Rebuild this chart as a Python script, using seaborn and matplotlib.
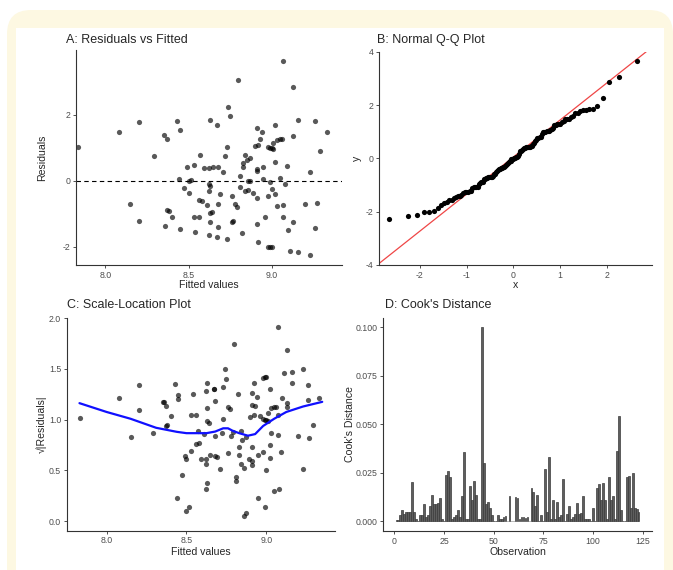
import numpy as np
import matplotlib
matplotlib.use("Agg")
import matplotlib.pyplot as plt
import seaborn as sns
from matplotlib.patches import FancyBboxPatch, Rectangle
from statistics import NormalDist

# fitted values / residuals, one pair per observation
fitted = [7.836, 8.08, 8.20, 8.29, 8.15, 8.20, 8.35, 8.37, 8.43, 8.45,
          8.44, 8.37, 8.38, 8.40, 8.36, 8.45, 8.47, 8.49, 8.50, 8.50,
          8.515, 8.53, 8.57, 8.53, 8.56, 8.54, 8.56, 8.58, 8.59, 8.62,
          8.63, 8.62, 8.62, 8.63, 8.61, 8.63, 8.64, 8.63, 8.62, 8.65,
          8.68, 8.67, 8.68, 8.69, 8.68, 8.67, 8.71, 8.72, 8.73, 8.74,
          8.73, 8.75, 8.76, 8.76, 8.77, 8.78, 8.79, 8.80, 8.81, 8.81,
          8.82, 8.83, 8.84, 8.83, 8.84, 8.86, 8.85, 8.87, 8.86, 8.87,
          8.89, 8.91, 8.91, 8.91, 8.90, 8.92, 8.93, 8.94, 8.91, 8.91,
          8.92, 8.95, 8.95, 8.96, 8.98, 8.98, 8.99, 9.00, 9.01, 8.98,
          8.99, 9.00, 8.99, 9.00, 9.02, 9.02, 9.01, 9.03, 9.05, 9.06,
          9.02, 9.03, 9.05, 9.07, 9.07, 9.08, 9.07, 9.09, 9.10, 9.11,
          9.13, 9.13, 9.13, 9.16, 9.16, 9.20, 9.23, 9.23, 9.26, 9.27,
          9.26, 9.29, 9.33]
residuals = [1.03, 1.47, 1.79, 0.75, -0.69, -1.21, 1.39, 1.28, 1.82, 1.55,
             0.05, -0.88, -0.90, -1.08, -1.38, -1.46, -0.21, 0.41, -0.37, -0.01,
             0.02, 0.48, 0.79, -1.09, -1.10, -1.56, -0.58, -0.60, 0.38, 0.38,
             1.85, -0.32, -0.10, -0.14, -0.73, -0.98, -0.94, -1.25, -1.64, 0.43,
             0.41, 1.70, -0.70, -0.40, -1.41, -1.69, 0.26, 0.76, 1.02, 2.25,
             -1.76, 1.97, -0.45, -1.26, -1.22, -0.70, -0.78, 3.05, 0.16, -0.19,
             -1.57, 0.54, 0.79, 0.43, -0.32, -0.27, 0.64, 0.69, 0.003, -0.007,
             -0.37, 1.60, 0.35, 0.31, 1.06, 1.09, 1.28, 1.49, -0.53, -1.31,
             -1.86, 0.05, 0.43, -1.08, -0.47, 1.02, 0.99, 0.99, 0.97, -1.99,
             -2.01, -2.01, -0.02, -0.25, -0.39, 1.69, 1.14, 1.24, 1.27, 1.26,
             0.56, -0.76, 0.09, -0.72, -1.09, -0.10, 3.65, 0.46, -1.48, -2.12,
             1.36, -1.26, 2.85, 1.86, -2.17, -0.71, 0.26, -2.26, 1.81, -0.67,
             -1.42, 0.90, 1.47]

# Cook's distance for observations 1..123 (panel D)
cooks_d = [0.0005, 0.0005, 0.003, 0.006, 0.004, 0.005, 0.005, 0.005, 0.0205, 0.005,
           0.001, 0.0, 0.003, 0.003, 0.009, 0.002, 0.003, 0.008, 0.0135, 0.009,
           0.009, 0.0095, 0.012, 0.001, 0.0, 0.024, 0.026, 0.023, 0.001, 0.002,
           0.003, 0.006, 0.002, 0.013, 0.0355, 0.001, 0.001, 0.018, 0.011, 0.021,
           0.0135, 0.001, 0.001, 0.100, 0.030, 0.009, 0.010, 0.007, 0.003, 0.0,
           0.0, 0.0035, 0.001, 0.001, 0.002, 0.0025, 0.0, 0.013, 0.0, 0.0,
           0.0125, 0.012, 0.001, 0.002, 0.002, 0.0015, 0.002, 0.0, 0.017, 0.015,
           0.008, 0.0135, 0.0, 0.003, 0.0, 0.027, 0.005, 0.033, 0.001, 0.011,
           0.001, 0.010, 0.002, 0.003, 0.022, 0.0, 0.004, 0.008, 0.001, 0.002,
           0.004, 0.0095, 0.004, 0.0045, 0.013, 0.001, 0.001, 0.001, 0.0, 0.007,
           0.0, 0.017, 0.019, 0.011, 0.0195, 0.011, 0.001, 0.023, 0.011, 0.013,
           0.001, 0.036, 0.0545, 0.006, 0.0, 0.0, 0.023, 0.0235, 0.007, 0.025,
           0.007, 0.0065, 0.005]
observation = list(range(1, len(cooks_d) + 1))

# smoothed trend in panel C
smooth_x = [7.83, 8.00, 8.15, 8.31, 8.44, 8.50, 8.625, 8.68, 8.73, 8.76,
            8.79, 8.83, 8.885, 8.93, 8.98, 9.05, 9.125, 9.23, 9.35]
smooth_y = [1.163, 1.076, 1.009, 0.92, 0.88, 0.867, 0.867, 0.883, 0.915, 0.915,
            0.89, 0.867, 0.842, 0.858, 0.938, 1.01, 1.076, 1.13, 1.176]

sns.set_theme(style="ticks")
plt.rcParams["font.family"] = ["Liberation Sans", "DejaVu Sans"]
plt.rcParams["axes.unicode_minus"] = False
plt.rcParams["axes.edgecolor"] = "#333333"
plt.rcParams["axes.linewidth"] = 0.8
for k in ("xtick", "ytick"):
    plt.rcParams[k + ".color"] = "#333333"
    plt.rcParams[k + ".labelcolor"] = "#4d4d4d"
    plt.rcParams[k + ".labelsize"] = 6.3
    plt.rcParams[k + ".major.size"] = 2.5
    plt.rcParams[k + ".major.width"] = 0.6
    plt.rcParams[k + ".major.pad"] = 1.5

W, H = 673, 570
fig = plt.figure(figsize=(W / 100, H / 100), dpi=100)
fig.patch.set_facecolor("white")

# pale frame behind the panels (pixel coords)
fig.patches.append(FancyBboxPatch((7, -40), 666, H - 10 + 40,
                                  boxstyle="round,pad=0,rounding_size=24",
                                  transform=None, facecolor="#fdf8e2",
                                  edgecolor="none", zorder=-10))
fig.patches.append(Rectangle((16, -5), 648, H - 28 + 5, transform=None,
                             facecolor="white", edgecolor="none", zorder=-9))


def add_ax(x0, x1, y0, y1):
    # box given in pixels, y measured from the top
    ax = fig.add_axes([x0 / W, 1 - y1 / H, (x1 - x0) / W, (y1 - y0) / H])
    ax.set_facecolor("none")
    sns.despine(ax=ax)
    return ax


def labels(ax, xl, yl, xpos, ypos, title, tx, ty):
    ax.set_xlabel(xl, fontsize=7.6, va="center")
    ax.set_ylabel(yl, fontsize=7.6, va="center")
    ax.xaxis.set_label_coords(0.5, xpos)
    ax.yaxis.set_label_coords(ypos, 0.5)
    fig.text(tx / W, 1 - ty / H, title, fontsize=9, ha="left", va="center")


pt = dict(color="black", alpha=0.65, s=14, linewidth=0)

# A: residuals vs fitted
axA = add_ax(76.3, 341.7, 50, 265)
sns.scatterplot(x=fitted, y=residuals, ax=axA, **pt)
axA.axhline(0, color="black", lw=0.8, ls=(0, (4, 3)))
axA.set_xlim(7.826, 9.42)
axA.set_ylim(-2.55, 3.97)
axA.set_xticks([8.0, 8.5, 9.0])
axA.set_yticks([-2, 0, 2])
labels(axA, "Fitted values", "Residuals", -0.093, -0.129,
       "A: Residuals vs Fitted", 66.5, 40)

# B: normal Q-Q
n = len(residuals)
theo = [NormalDist().inv_cdf((i - 0.5) / n) for i in range(1, n + 1)]
sample = np.sort(residuals)
q1, q3 = np.quantile(sample, [0.25, 0.75])
z1, z3 = NormalDist().inv_cdf(0.25), NormalDist().inv_cdf(0.75)
slope = (q3 - q1) / (z3 - z1)
icpt = q1 - slope * z1
axB = add_ax(379.3, 651.7, 51.7, 265)
sns.scatterplot(x=theo, y=sample, ax=axB, color="black", s=14, linewidth=0, zorder=3)
axB.axline((0, icpt), slope=slope, color="#ef4646", lw=0.9, zorder=2)
axB.set_xlim(-2.86, 2.95)
axB.set_ylim(-4, 4)
axB.set_xticks([-2, -1, 0, 1, 2])
axB.set_yticks([-4, -2, 0, 2, 4])
labels(axB, "x", "y", -0.094, -0.082, "B: Normal Q-Q Plot", 376.7, 40)

# C: scale-location
sqrt_abs = np.sqrt(np.abs(residuals))
axC = add_ax(66.7, 335, 318.3, 530.7)
sns.scatterplot(x=fitted, y=sqrt_abs, ax=axC, **pt)
sns.lineplot(x=smooth_x, y=smooth_y, ax=axC, color="#1010ff", lw=1.6, sort=True)
axC.set_xlim(7.75, 9.43)
axC.set_ylim(-0.095, 1.995)
axC.set_xticks([8.0, 8.5, 9.0])
axC.set_yticks([0.0, 0.5, 1.0, 1.5, 2.0])
axC.set_yticklabels(["0.0", "0.5", "1.0", "1.5", "2.0"])
labels(axC, "Fitted values", "√|Residuals|", -0.099, -0.093,
       "C: Scale-Location Plot", 66.7, 305)

# D: Cook's distance
axD = add_ax(383.3, 651.7, 317.6, 531)
sns.barplot(x=observation, y=cooks_d, ax=axD, native_scale=True, width=0.9,
            color="#5e5e5e", edgecolor="#3a3a3a", linewidth=0.5,
            saturation=1, errorbar=None)
axD.set_xlim(-5.6, 129.6)
axD.set_ylim(-0.005, 0.105)
axD.set_xticks([0, 25, 50, 75, 100, 125])
axD.set_xticklabels(["0", "25", "50", "75", "100", "125"])
axD.set_yticks([0.0, 0.025, 0.05, 0.075, 0.1])
axD.set_yticklabels(["0.000", "0.025", "0.050", "0.075", "0.100"])
labels(axD, "Observation", "Cook's Distance", -0.097, -0.124,
       "D: Cook's Distance", 385, 305)

fig.savefig("out.png", dpi=100)
